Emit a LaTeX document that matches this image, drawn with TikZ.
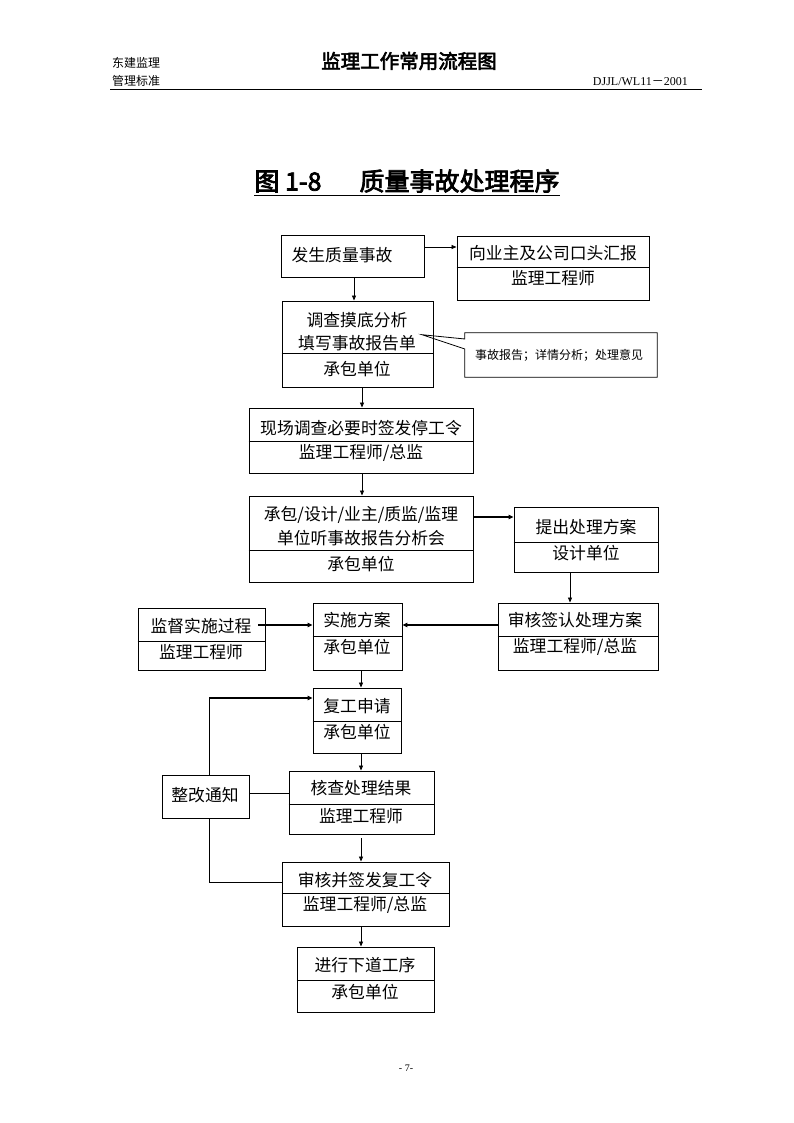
\documentclass[tikz,border=0pt]{standalone}
\usepackage{fontspec}
\newfontfamily\cjk[AutoFakeBold=3]{Noto Sans CJK SC}
\newfontfamily\tms{Liberation Serif}
\usetikzlibrary{arrows.meta}
\tikzset{
 box/.style={draw, line width=0.9pt, inner sep=0pt},
 txt/.style={inner sep=0pt, font=\cjk\fontsize{16.8}{18}\selectfont},
 small/.style={inner sep=0pt, font=\cjk\fontsize{12}{14}\selectfont},
 arr/.style={-{Triangle[length=5pt,width=4pt]}, line width=0.8pt},
 tarr/.style={-{Triangle[length=5pt,width=4.5pt]}, line width=2.2pt},
 ln/.style={line width=0.8pt},
}
\newcommand\fbx[5]{%
 \node[box, minimum width={#4-#2}, minimum height={#5-#3}] (#1) at ({(#2+#4)/2},{(#3+#5)/2}) {};}
\newcommand\divl[2]{\draw[ln] (#1.west |- 0,#2) -- (#1.east |- 0,#2);}
\begin{document}
\begin{tikzpicture}[x=1pt,y=-1pt]
\useasboundingbox[fill=white] (0,0) rectangle (794,1123);
% header
\node[small, anchor=west] (h1) at (112,63) {东建监理};
\node[small, anchor=west] (h2) at (112,81) {管理标准};
\node[inner sep=0pt, font=\cjk\bfseries\fontsize{19.5}{22}\selectfont] (h3) at (409,61) {监理工作常用流程图};
\node[inner sep=0pt, anchor=east, font=\tms\fontsize{12}{14}\selectfont] (h4) at (688,82) {DJJL/WL11{\cjk －}2001};
\coordinate (hl1) at (110,90);
\coordinate (hl2) at (702,90);
\draw[line width=1pt] (hl1) -- (hl2);
% title
\node[inner sep=0pt, font=\cjk\bfseries\fontsize{25}{28}\selectfont] (title) at (407,181) {图 1-8\hspace{38pt}质量事故处理程序};
\draw[line width=1.2pt] ([yshift=-5pt]title.base west) -- ([yshift=-5pt]title.base east);
% boxes
\fbx{b1}{281}{235}{424}{277}
\fbx{b2}{457}{236}{649}{300} \divl{b2}{267}
\fbx{b3}{282}{301}{433}{387} \divl{b3}{353}
\fbx{b4}{249}{408}{473}{473} \divl{b4}{441}
\fbx{b5}{249}{496}{473}{582} \divl{b5}{550}
\fbx{b6}{514}{507}{658}{572} \divl{b6}{542}
\fbx{b7}{138}{608}{265}{670} \divl{b7}{641}
\fbx{b8}{313}{603}{402}{670} \divl{b8}{636}
\fbx{b9}{498}{603}{658}{670} \divl{b9}{636}
\fbx{b10}{313}{688}{401}{753} \divl{b10}{721}
\fbx{zg}{162}{775}{249}{818}
\fbx{b11}{289}{771}{434}{834} \divl{b11}{804}
\fbx{b12}{282}{862}{449}{926} \divl{b12}{893}
\fbx{b13}{297}{947}{434}{1012} \divl{b13}{980}
% callout
\node[inner sep=0pt, minimum width=192, minimum height=44] (c) at (561,355) {};
\coordinate (tip) at (422,334.7);
\draw[ln] (c.north west) -- (c.west |- 0,339) -- (tip) -- (c.west |- 0,349) -- (c.south west) -- (c.south east) -- (c.north east) -- cycle;
\node[small] (ct) at (559,355) {事故报告；详情分析；处理意见};
% texts
\node[txt] (t1) at (342,255) {发生质量事故};
\node[txt] (t2a) at (553,253) {向业主及公司口头汇报};
\node[txt] (t2b) at (553,278) {监理工程师};
\node[txt] (t3a) at (357,320) {调查摸底分析};
\node[txt] (t3b) at (357,343) {填写事故报告单};
\node[txt] (t3c) at (357,369) {承包单位};
\node[txt] (t4a) at (361,428) {现场调查必要时签发停工令};
\node[txt] (t4b) at (361,453) {监理工程师/总监};
\node[txt] (t5a) at (361,515) {承包/设计/业主/质监/监理};
\node[txt] (t5b) at (361,538) {单位听事故报告分析会};
\node[txt] (t5c) at (361,564) {承包单位};
\node[txt] (t6a) at (586,527) {提出处理方案};
\node[txt] (t6b) at (586,553) {设计单位};
\node[txt] (t7a) at (201,626) {监督实施过程};
\node[txt] (t7b) at (201,652) {监理工程师};
\node[txt] (t8a) at (357,620) {实施方案};
\node[txt] (t8b) at (357,647) {承包单位};
\node[txt] (t9a) at (575,620) {审核签认处理方案};
\node[txt] (t9b) at (575,647) {监理工程师/总监};
\node[txt] (t10a) at (357,706) {复工申请};
\node[txt] (t10b) at (357,732) {承包单位};
\node[txt] (tzg) at (205,795) {整改通知};
\node[txt] (t11a) at (361,788) {核查处理结果};
\node[txt] (t11b) at (361,816) {监理工程师};
\node[txt] (t12a) at (365,880) {审核并签发复工令};
\node[txt] (t12b) at (365,905) {监理工程师/总监};
\node[txt] (t13a) at (365,965) {进行下道工序};
\node[txt] (t13b) at (365,992) {承包单位};
% connectors
\draw[arr] (b1.east |- 0,247) -- (b2.west |- 0,247);
\draw[arr] (b1.south -| 354,0) -- (b3.north -| 354,0);
\draw[arr] (b3.south -| 362,0) -- (b4.north -| 362,0);
\draw[arr] (b4.south -| 362,0) -- (b5.north -| 362,0);
\draw[tarr] (b5.east |- 0,517) -- (b6.west |- 0,517);
\draw[arr] (b6.south -| 570,0) -- (b9.north -| 570,0);
\draw[tarr] (b9.west |- 0,625) -- (b8.east |- 0,625);
\draw[tarr] ([xshift=-7pt]b7.east |- 0,625) -- (b8.west |- 0,625);
\draw[arr] (b8.south -| 361,0) -- (b10.north -| 361,0);
\draw[arr] (b10.south -| 361,0) -- (b11.north -| 361,0);
\draw[arr] ([yshift=-4pt]b11.south -| 361,0) -- (b12.north -| 361,0);
\draw[arr] (b12.south -| 361,0) -- (b13.north -| 361,0);
\draw[ln] (zg.east |- 0,793) -- (b11.west |- 0,793);
\coordinate (k1) at (209,698);
\coordinate (k2) at (209,882);
\draw[ln] (zg.north -| k1) -- (k1);
\draw[tarr] (k1) -- (b10.west |- k1);
\draw[ln] (zg.south -| k2) -- (k2) -- (b12.west |- k2);
% page number
\node[inner sep=0pt, font=\tms\fontsize{10}{12}\selectfont] (pg) at (406,1068) {- 7-};
\end{tikzpicture}
\end{document}
